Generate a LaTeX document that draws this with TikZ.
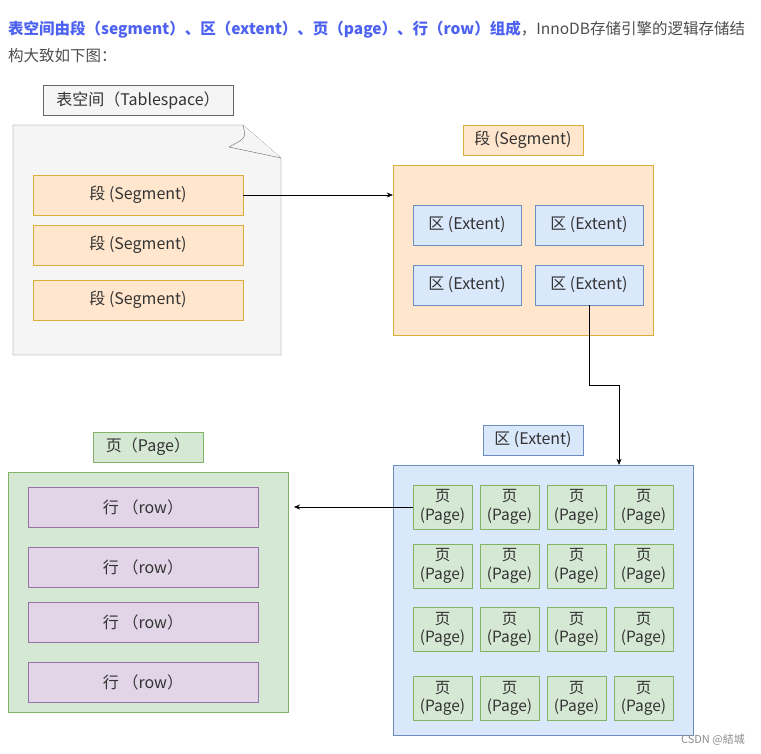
\documentclass[tikz,border=0pt]{standalone}
\usepackage{fontspec}
\setmainfont{Noto Sans CJK SC}
\usepackage{tikz}
\usetikzlibrary{arrows.meta}
\definecolor{headblue}{HTML}{4E62F0}
\definecolor{headgray}{HTML}{4D4D4D}
\definecolor{docfill}{HTML}{F5F5F5}
\definecolor{docline}{HTML}{666666}
\definecolor{segfill}{HTML}{FFE6CC}
\definecolor{segline}{HTML}{D9AE3A}
\definecolor{extfill}{HTML}{DAE8FC}
\definecolor{extline}{HTML}{6C8EBF}
\definecolor{pgfill}{HTML}{D5E8D4}
\definecolor{pgline}{HTML}{82B366}
\definecolor{rowfill}{HTML}{E1D5E7}
\definecolor{rowline}{HTML}{9673A6}
\tikzset{
  box/.style={draw, rectangle, inner sep=0pt, text=black!80, font=\fontsize{16}{19}\selectfont},
  segbox/.style={box, fill=segfill, draw=segline, minimum width=210pt, minimum height=40pt},
  extbox/.style={box, fill=extfill, draw=extline, minimum width=108pt, minimum height=40pt},
  pagebox/.style={box, fill=pgfill, draw=pgline, minimum width=59pt, minimum height=44pt, align=center, font=\fontsize{15.5}{18.5}\selectfont},
  rowbox/.style={box, fill=rowfill, draw=rowline, minimum width=230pt, minimum height=40pt},
  conn/.style={draw=black, -{Stealth[length=6pt,width=5pt]}},
}
\newcommand{\pagecell}[3]{\node[pagebox] (#1) at (#2,#3) {页\\(Page)};}

\begin{document}
\begin{tikzpicture}[x=1pt, y=-1pt]
        \useasboundingbox (0,0) rectangle (761,754);
        % heading
        \node[anchor=base west, inner sep=0pt, font=\fontsize{15.5}{18}\selectfont, text=headgray] (head1) at (8,35)
          {\textcolor{headblue}{\bfseries 表空间由段（segment）、区（extent）、页（page）、行（row）组成}，InnoDB存储引擎的逻辑存储结};
        \node[anchor=base west, inner sep=0pt, font=\fontsize{15.5}{18}\selectfont, text=headgray] (head2) at (8,62) {构大致如下图：};
        % tablespace
        \node[box, fill=docfill, draw=docline, minimum width=190pt, minimum height=30pt] (tslabel) at (138,100) {表空间（Tablespace）};
        \draw[docline, fill=docfill] (13,125) -- (243,125) -- (281,158) -- (281,355) -- (13,355) -- cycle;
        \draw[docline, fill=docfill] (243,125) .. controls (246,138) .. (229,147) -- (281,158);
        \node[segbox] (seg1) at (138,195) {段 (Segment)};
        \node[segbox] (seg2) at (138,245) {段 (Segment)};
        \node[segbox] (seg3) at (138,300) {段 (Segment)};
        % segment
        \node[box, fill=segfill, draw=segline, minimum width=120pt, minimum height=30pt] (seglabel) at (523,140) {段 (Segment)};
        \node[box, fill=segfill, draw=segline, minimum width=260pt, minimum height=170pt] (segc) at (523,250) {};
        \node[extbox] (ext1) at (467,225) {区 (Extent)};
        \node[extbox] (ext2) at (589,225) {区 (Extent)};
        \node[extbox] (ext3) at (467,285) {区 (Extent)};
        \node[extbox] (ext4) at (589,285) {区 (Extent)};
        % extent
        \node[box, fill=extfill, draw=extline, minimum width=100pt, minimum height=30pt] (extlabel) at (533,440) {区 (Extent)};
        \node[box, fill=extfill, draw=extline, minimum width=300pt, minimum height=270pt] (extc) at (543,600) {};
        % row1
        \pagecell{p11}{442.5}{507}
        \pagecell{p12}{509.5}{507}
        \pagecell{p13}{576.5}{507}
        \pagecell{p14}{643.5}{507}
        % row2
        \pagecell{p21}{442.5}{566}
        \pagecell{p22}{509.5}{566}
        \pagecell{p23}{576.5}{566}
        \pagecell{p24}{643.5}{566}
        % row3
        \pagecell{p31}{442.5}{629.5}
        \pagecell{p32}{509.5}{629.5}
        \pagecell{p33}{576.5}{629.5}
        \pagecell{p34}{643.5}{629.5}
        % row4
        \pagecell{p41}{442.5}{698.5}
        \pagecell{p42}{509.5}{698.5}
        \pagecell{p43}{576.5}{698.5}
        \pagecell{p44}{643.5}{698.5}
        % page
        \node[box, fill=pgfill, draw=pgline, minimum width=110pt, minimum height=30pt] (pglabel) at (148,447) {页（Page）};
        \node[box, fill=pgfill, draw=pgline, minimum width=280pt, minimum height=240pt] (pgc) at (148,592) {};
        \node[rowbox] (row1) at (143,507) {行 （row）};
        \node[rowbox] (row2) at (143,567) {行 （row）};
        \node[rowbox] (row3) at (143,622) {行 （row）};
        \node[rowbox] (row4) at (143,682) {行 （row）};
        % connectors
        \coordinate (turn) at (619,385);
        \coordinate (pin) at (294,507);
        \draw[conn] (seg1.east) -- (seg1.east -| segc.west);
        \draw[conn] (ext4.south) -- (ext4.south |- turn) -- (turn) -- (turn |- extc.north);
        \draw[conn] (p11.west) -- (pin);
        % watermark
        \node[anchor=base east, inner sep=0pt, font=\fontsize{11}{13}\selectfont, text=black!45] (mark) at (745,743) {CSDN @結城};
\end{tikzpicture}
\end{document}
